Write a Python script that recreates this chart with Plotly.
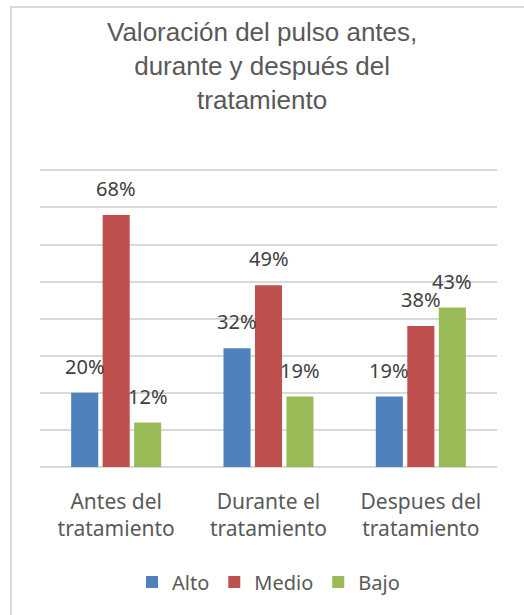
import plotly.graph_objects as go

categorias = ["Antes del<br>tratamiento", "Durante el<br>tratamiento", "Despues del<br>tratamiento"]
alto = [20, 32, 19]
medio = [68, 49, 38]
bajo = [12, 19, 43]

series = [("Alto", alto, "#4F81BD"), ("Medio", medio, "#C0504D"), ("Bajo", bajo, "#9BBB59")]
bargap = 0.38

fig = go.Figure()
for nombre, valores, color in series:
    fig.add_trace(go.Bar(
        x=categorias, y=valores, name=nombre,
        marker_color=color, marker_line_width=0,
    ))

# data labels above each bar, placed at the bar's slot within the group
for i, (nombre, valores, color) in enumerate(series):
    for j, v in enumerate(valores):
        fig.add_annotation(
            x=j + (i - 1) * (1 - bargap) / 3, y=v, text=f"{v}%",
            xanchor="center", yanchor="bottom", yshift=11, showarrow=False,
            font=dict(family="Noto Sans", size=20, color="#404040"),
        )

fig.update_layout(
    width=524, height=615,
    margin=dict(l=40, r=27, t=163, b=148),
    paper_bgcolor="white", plot_bgcolor="white",
    barmode="group", bargap=bargap, bargroupgap=0.14,
    showlegend=True,
    legend=dict(
        orientation="h", x=0.5, xanchor="center", y=-(582 - 467) / 304, yanchor="middle",
        font=dict(family="Noto Sans", size=20, color="#595959"),
        itemwidth=30, traceorder="normal",
    ),
)
# title as annotation so that the three lines anchor correctly
fig.add_annotation(
    text="Valoración del pulso antes,<br>durante y después del<br>tratamiento",
    xref="paper", yref="paper", x=0.486, y=1 + (163 - 15) / 304,
    xanchor="center", yanchor="top", showarrow=False,
    font=dict(family="Liberation Sans", size=26, color="#595959"),
)
fig.update_xaxes(
    showgrid=False, showline=False, ticks="", ticklabelstandoff=20,
    tickfont=dict(family="Noto Sans", size=21, color="#595959"),
)
fig.update_yaxes(
    range=[0, 82], dtick=10, showticklabels=False,
    gridcolor="#D9D9D9", gridwidth=1.5, zeroline=True, zerolinecolor="#D9D9D9", zerolinewidth=1.5,
)
# light frame of the chart area (left and top edges visible)
fig.add_shape(type="rect", xref="paper", yref="paper",
              x0=-0.0635, x1=1.3, y0=-1.0, y1=1 + (163 - 7) / 304,
              line=dict(color="#D9D9D9", width=2), fillcolor="rgba(0,0,0,0)", layer="below")

fig.write_html("out.html", config={"displayModeBar": False},
               post_script="document.body.style.margin='0';")
